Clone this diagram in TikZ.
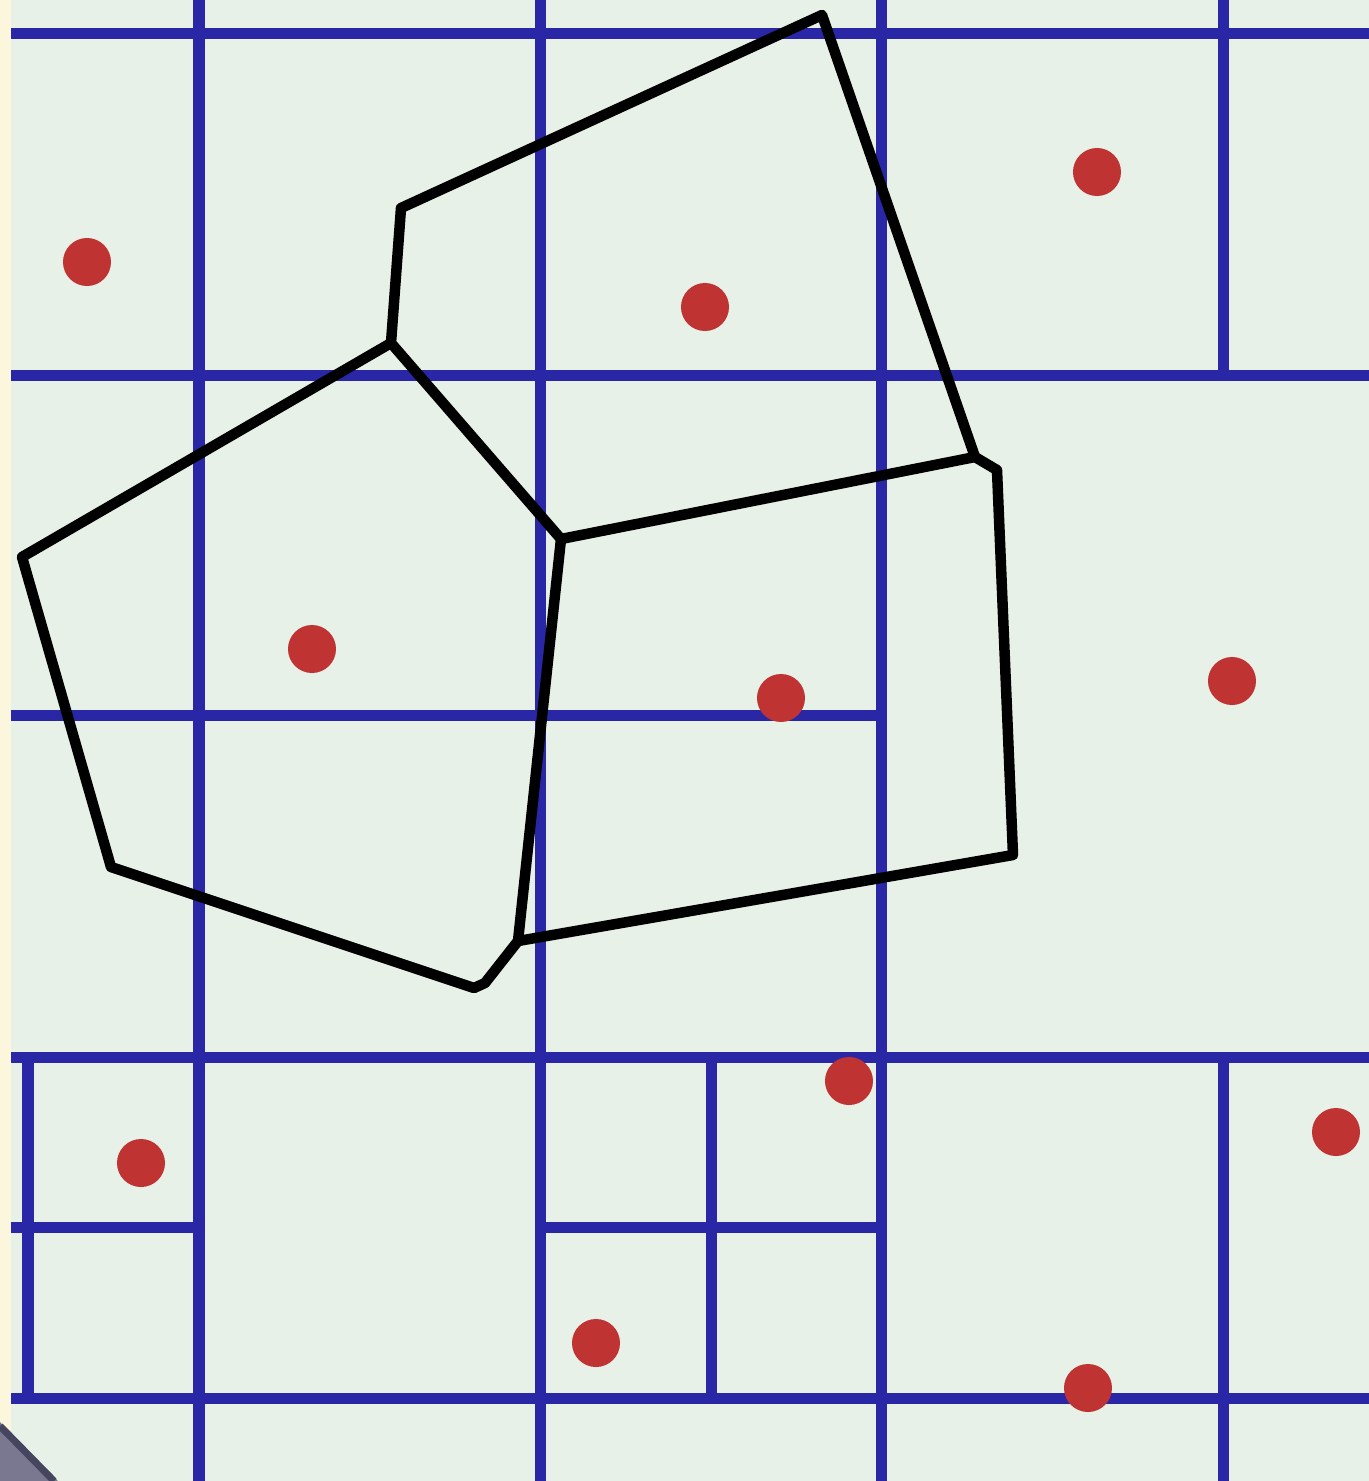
\documentclass[tikz,border=0pt]{standalone}
\begin{document}
\begin{tikzpicture}[x=0.01cm,y=-0.01cm,
  grid/.style={draw=gridblue,line width=0.11cm},
  edge/.style={draw=black,line width=0.105cm,line join=round},
  site/.style={circle,fill=sitered,inner sep=0pt,minimum size=0.48cm}]
\definecolor{gridblue}{HTML}{2A27A6}
\definecolor{sitered}{HTML}{C03333}
\definecolor{bggreen}{HTML}{E7F1E7}
\definecolor{cream}{HTML}{FCF7DC}
\definecolor{cornerfill}{HTML}{7A7890}
\definecolor{cornerdraw}{HTML}{45455F}
\useasboundingbox (0,0) rectangle (1369,1481);
\fill[cream] (0,0) rectangle (11,1481);
\fill[bggreen] (11,0) rectangle (1369,1481);
% grid horizontals
\draw[grid] (11,33) -- (1369,33);
\draw[grid] (11,375) -- (1369,375);
\draw[grid] (11,715) -- (881,715);
\draw[grid] (11,1057) -- (1369,1057);
\draw[grid] (11,1227) -- (199,1227);
\draw[grid] (540,1227) -- (881,1227);
\draw[grid] (11,1398) -- (1369,1398);
% grid verticals
\draw[grid] (199,0) -- (199,1481);
\draw[grid] (540,0) -- (540,1481);
\draw[grid] (881,0) -- (881,1481);
\draw[grid] (1223,0) -- (1223,375);
\draw[grid] (1223,1057) -- (1223,1481);
\draw[grid] (28,1057) -- (28,1398);
\draw[grid] (711,1057) -- (711,1398);
% corner triangle
\fill[cornerfill] (0,1422) -- (58,1481) -- (0,1481) -- cycle;
\draw[cornerdraw,line width=0.07cm] (0,1426) -- (54,1481);
% voronoi vertices
\coordinate (a) at (391,343);
\coordinate (b) at (401,208);
\coordinate (c) at (822,15);
\coordinate (d) at (975,457);
\coordinate (e) at (561,539);
\coordinate (f) at (22,557);
\coordinate (g) at (111,867);
\coordinate (h) at (474,988);
\coordinate (i) at (485,983);
\coordinate (j) at (518,941);
\coordinate (k) at (997,470);
\coordinate (l) at (1013,855);
\draw[edge] (a) -- (b) -- (c) -- (d) -- (e) -- cycle;
\draw[edge] (a) -- (f) -- (g) -- (h) -- (i) -- (j) -- (e);
\draw[edge] (d) -- (k) -- (l) -- (j);
% sites
\node[site] (s1) at (87,262) {};
\node[site] (s2) at (705,307) {};
\node[site] (s3) at (1097,172) {};
\node[site] (s4) at (312,649) {};
\node[site] (s5) at (781,698) {};
\node[site] (s6) at (1232,681) {};
\node[site] (s7) at (141,1163) {};
\node[site] (s8) at (849,1081) {};
\node[site] (s9) at (1336,1132) {};
\node[site] (s10) at (596,1343) {};
\node[site] (s11) at (1088,1388) {};
\end{tikzpicture}
\end{document}
